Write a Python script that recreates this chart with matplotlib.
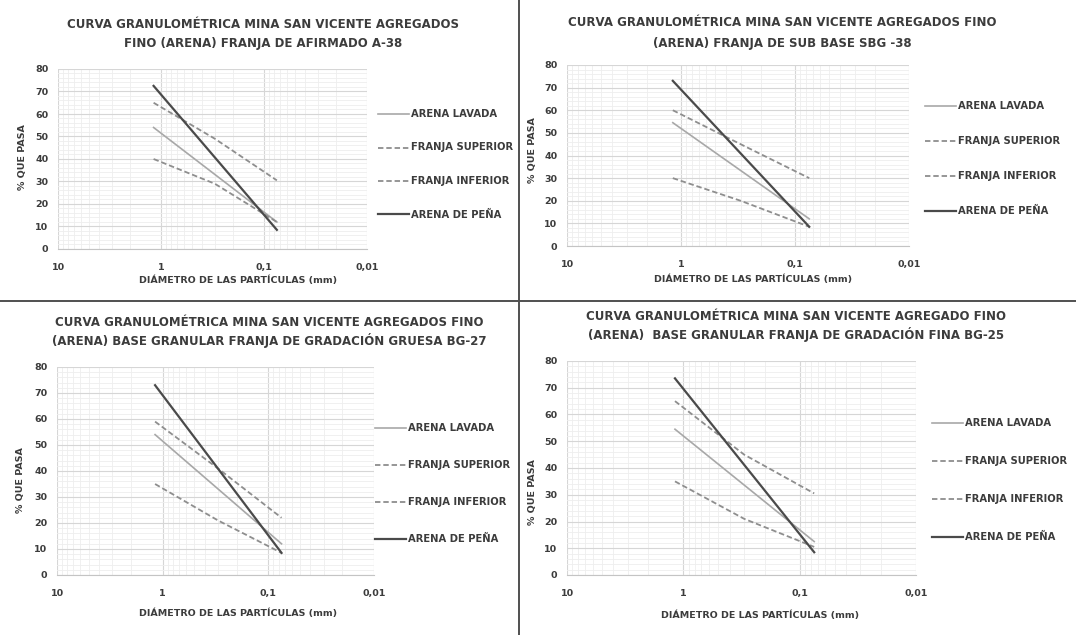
import matplotlib
matplotlib.use("Agg")
import matplotlib.pyplot as plt
from matplotlib.lines import Line2D
from matplotlib.ticker import FixedLocator, NullFormatter, LogLocator

W, H = 1076, 635
plt.rcParams['font.family'] = ['DejaVu Sans']

# ---------------- data ----------------
sizes_curve = [1.18, 0.3, 0.075]   # mm
sizes_line = [1.18, 0.075]        # mm
series_names = ["ARENA LAVADA", "FRANJA SUPERIOR", "FRANJA INFERIOR", "ARENA DE PEÑA"]

titles = [
    "CURVA GRANULOMÉTRICA MINA SAN VICENTE AGREGADOS\nFINO (ARENA) FRANJA DE AFIRMADO A-38",
    "CURVA GRANULOMÉTRICA MINA SAN VICENTE AGREGADOS FINO\n(ARENA) FRANJA DE SUB BASE SBG -38",
    "CURVA GRANULOMÉTRICA MINA SAN VICENTE AGREGADOS FINO\n(ARENA) BASE GRANULAR FRANJA DE GRADACIÓN GRUESA BG-27",
    "CURVA GRANULOMÉTRICA MINA SAN VICENTE AGREGADO FINO\n(ARENA)  BASE GRANULAR FRANJA DE GRADACIÓN FINA BG-25",
]

lavada = [[54, 12], [54.5, 12], [54, 12], [54.5, 12.5]]
superior = [[65, 49, 30.5], [60, 45, 30], [59, 41, 22], [65, 45, 30.5]]
inferior = [[40, 29, 12], [30, 20, 8.5], [35, 21, 8.5], [35, 21, 10.5]]
pena = [[72.5, 8.5], [73, 8.5], [73, 8.5], [73.5, 8.5]]

x_ticks = [10, 1, 0.1, 0.01]
x_ticklabels = ["10", "1", "0,1", "0,01"]
y_ticks = [0, 10, 20, 30, 40, 50, 60, 70, 80]

xlabel = "DIÁMETRO DE LAS PARTÍCULAS (mm)"
ylabel = "% QUE PASA"

# ---------------- layout (pixels) ----------------
# (left, right, top, bottom) of plot area
axes_px = [(58, 367, 69, 249), (567, 909, 65, 246), (57, 374, 367, 575), (567, 916, 361, 575)]
title_px = [(263, 24, 43), (782, 23, 43), (269, 322, 341), (796, 316, 335)]
legend_px = [(378, 114, 33.5), (925, 106, 35), (375, 428, 37), (932, 423, 38)]
xlabel_px = [(238, 280), (753, 279), (238, 613), (760, 615)]
ylabel_px = [(22, 157), (532, 150), (21, 480), (532, 492)]

fig = plt.figure(figsize=(W / 100, H / 100), dpi=100)

def fx(x):
    return x / W

def fy(y):
    return 1 - y / H

text_col = "#3c3c3c"
styles = [
    dict(color="#a8a8a8", lw=1.2, ls="-"),
    dict(color="#8e8e8e", lw=1.3, ls=(0, (3, 1.6))),
    dict(color="#8e8e8e", lw=1.3, ls=(0, (3, 1.6))),
    dict(color="#4a4a4a", lw=1.6, ls="-"),
]

for i in range(4):
    l, r, t, b = axes_px[i]
    ax = fig.add_axes([fx(l), fy(b), (r - l) / W, (b - t) / H])
    ax.set_xscale("log")
    ax.set_xlim(10, 0.01)
    ax.set_ylim(0, 80)
    data = [(sizes_line, lavada[i]), (sizes_curve, superior[i]),
            (sizes_curve, inferior[i]), (sizes_line, pena[i])]
    for (xs, ys), st, nm in zip(data, styles, series_names):
        ax.plot(xs, ys, label=nm, **st)
    ax.xaxis.set_major_locator(FixedLocator(x_ticks))
    ax.set_xticklabels(x_ticklabels)
    ax.xaxis.set_minor_locator(LogLocator(base=10, subs=range(2, 10)))
    ax.xaxis.set_minor_formatter(NullFormatter())
    ax.set_yticks(y_ticks)
    ax.set_yticks(range(0, 81, 2), minor=True)
    ax.grid(True, which="major", color="#d6d6d6", lw=0.8)
    ax.grid(True, which="minor", color="#eeeeee", lw=0.6)
    ax.set_axisbelow(True)
    for s in ["top", "right", "left"]:
        ax.spines[s].set_visible(False)
    ax.spines["bottom"].set_color("#c4c4c4")
    ax.tick_params(which="both", length=0)
    ax.tick_params(axis="x", labelsize=6.8, colors=text_col, pad=10)
    ax.tick_params(axis="y", labelsize=6.8, colors=text_col, pad=7)
    for lab in ax.get_xticklabels() + ax.get_yticklabels():
        lab.set_fontweight("bold")

    # title
    tx, ty1, ty2 = title_px[i]
    line1, line2 = titles[i].split("\n")
    fig.text(fx(tx), fy(ty1), line1, ha="center", va="center", fontsize=8.5,
             fontweight="bold", color=text_col)
    fig.text(fx(tx), fy(ty2), line2, ha="center", va="center", fontsize=8.5,
             fontweight="bold", color=text_col)
    # axis labels
    xx, xy = xlabel_px[i]
    fig.text(fx(xx), fy(xy), xlabel, ha="center", va="center", fontsize=6.8,
             fontweight="bold", color=text_col)
    yx, yy = ylabel_px[i]
    fig.text(fx(yx), fy(yy), ylabel, ha="center", va="center", fontsize=6.8,
             fontweight="bold", color=text_col, rotation=90)

    # legend
    lx, ly, lsp = legend_px[i]
    for k, (st, nm) in enumerate(zip(styles, series_names)):
        yk = ly + k * lsp
        fig.add_artist(Line2D([fx(lx), fx(lx + 31)], [fy(yk), fy(yk)],
                              transform=fig.transFigure, **st))
        fig.text(fx(lx + 33), fy(yk), nm, ha="left", va="center", fontsize=7.2,
                 fontweight="bold", color=text_col)

# dividers
fig.add_artist(Line2D([fx(519), fx(519)], [0, 1], transform=fig.transFigure,
                      color="#505050", lw=1.4))
fig.add_artist(Line2D([0, 1], [fy(301), fy(301)], transform=fig.transFigure,
                      color="#505050", lw=1.4))

fig.savefig("out.png", dpi=100)
